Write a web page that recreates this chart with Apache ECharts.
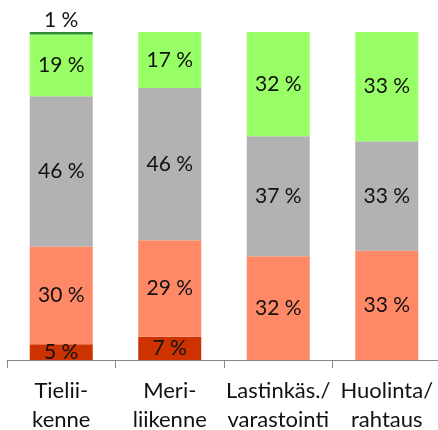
<!DOCTYPE html>
<html>
<head>
<meta charset="utf-8">
<script src="https://cdn.jsdelivr.net/npm/echarts@6/dist/echarts.min.js"></script>
<style>
  html, body { margin: 0; padding: 0; background: #fff; }
  #main { width: 438px; height: 430px; }
</style>
</head>
<body>
<div id="main"></div>
<script>
    // kategoriat
    var categories = ['Tielii-\nkenne', 'Meri-\nliikenne', 'Lastinkäs./\nvarastointi', 'Huolinta/\nrahtaus'];
    // osuudet (%) alhaalta ylös
    var darkRed   = [4.8, 7.1, null, null];
    var salmon    = [29.8, 29.4, 31.6, 33.3];
    var grey      = [45.8, 46.4, 36.6, 33.4];
    var green     = [18.8, 17.1, 31.8, 33.3];
    var darkGreen = [0.8, null, null, null];

    var FONT = 'Lato';

    function pct(p){
        return Math.round(p.value) + ' %';
    }

    function makeSeries(name, data, color, pos){
        return {
            name: name,
            type: 'bar',
            stack: 'all',
            data: data,
            barWidth: 63,
            itemStyle: { color: color },
            label: {
                show: true,
                position: pos || 'inside',
                formatter: pct,
                color: '#111',
                fontFamily: FONT,
                fontSize: 21,
                distance: 1
            }
        };
    }

    var chart = echarts.init(document.getElementById('main'));
    chart.setOption({
        animation: false,
        grid: { left: 7, top: 32, width: 434, bottom: 70, containLabel: false, outerBoundsMode: 'none' },
        xAxis: {
            type: 'category',
            data: categories,
            axisLine: { lineStyle: { color: '#888', width: 1 } },
            axisTick: { show: true, length: 8, lineStyle: { color: '#888' } },
            axisLabel: {
                color: '#111',
                fontFamily: FONT,
                fontSize: 22,
                lineHeight: 29,
                margin: 16,
                interval: 0
            }
        },
        yAxis: {
            type: 'value',
            min: 0,
            max: 100,
            show: false
        },
        series: [
            makeSeries('a', darkRed, '#CC3300'),
            makeSeries('b', salmon, '#FF8866'),
            makeSeries('c', grey, '#B2B2B2'),
            makeSeries('d', green, '#99FF66'),
            makeSeries('e', darkGreen, '#2E8B2E', 'top')
        ]
    });
</script>
</body>
</html>
